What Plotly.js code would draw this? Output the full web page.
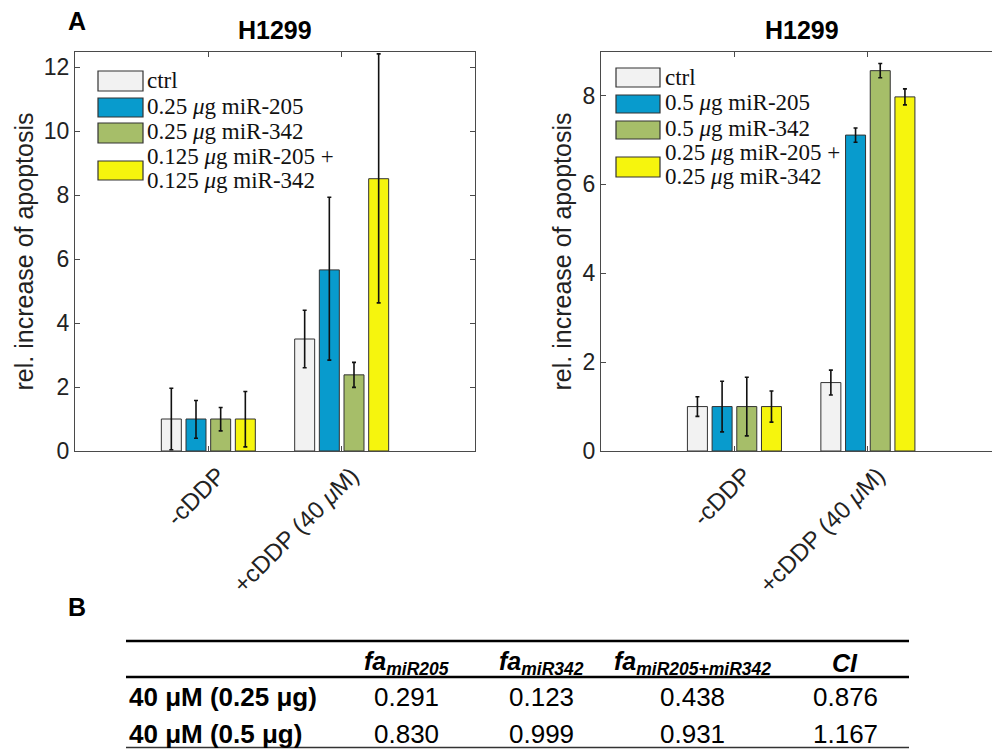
<!DOCTYPE html>
<html>
<head>
<meta charset="utf-8">
<script src="https://cdn.plot.ly/plotly-3.0.1.min.js"></script>
<style>html,body{margin:0;padding:0;background:#fff;overflow:hidden;}#chart{width:992px;height:749px;}</style>
</head>
<body>
<div id="chart"></div>
<script>
// ---------- data ----------
const categories = ['-cDDP', '+cDDP (40 <i>μ</i>M)'];
const catPos = [1, 2];

const seriesLeft = ['ctrl', '0.25 <i>μ</i>g miR-205', '0.25 <i>μ</i>g miR-342', '0.125 <i>μ</i>g miR-205 +<br>0.125 <i>μ</i>g miR-342'];
const seriesRight = ['ctrl', '0.5 <i>μ</i>g miR-205', '0.5 <i>μ</i>g miR-342', '0.25 <i>μ</i>g miR-205 +<br>0.25 <i>μ</i>g miR-342'];
const seriesColors = ['#f2f2f2', '#089bcd', '#a6be69', '#f6f50d'];

// left panel (0.25 µg)
const ctrlLeft = [1.0, 3.5];
const miR205Left = [1.0, 5.66];
const miR342Left = [1.0, 2.38];
const comboLeft = [1.0, 8.51];
const ctrlLeftErrPlus = [0.96, 0.9], ctrlLeftErrMinus = [0.96, 0.9];
const miR205LeftErrPlus = [0.58, 2.27], miR205LeftErrMinus = [0.6, 2.82];
const miR342LeftErrPlus = [0.36, 0.39], miR342LeftErrMinus = [0.37, 0.39];
const comboLeftErrPlus = [0.86, 3.9], comboLeftErrMinus = [0.87, 3.88];

// right panel (0.5 µg)
const ctrlRight = [1.0, 1.54];
const miR205Right = [1.0, 7.11];
const miR342Right = [1.0, 8.56];
const comboRight = [1.0, 7.97];
const ctrlRightErr = [0.22, 0.28];
const miR205RightErr = [0.57, 0.16];
const miR342RightErr = [0.66, 0.16];
const comboRightErr = [0.35, 0.18];

const leftTicks = [0, 2, 4, 6, 8, 10, 12];
const rightTicks = [0, 2, 4, 6, 8];

// table
const tableHeader = ['', '<b><i>fa<sub>miR205</sub></i></b>', '<b><i>fa<sub>miR342</sub></i></b>', '<b><i>fa<sub>miR205+miR342</sub></i></b>', '<b><i>CI</i></b>'];
const tableRowLabels = ['40 μM (0.25 μg)', '40 μM (0.5 μg)'];
const faMiR205 = ['0.291', '0.830'];
const faMiR342 = ['0.123', '0.999'];
const faCombo = ['0.438', '0.931'];
const ciValues = ['0.876', '1.167'];

// ---------- layout helpers ----------
const W = 992, H = 749;
const px = x => x / W;
const py = y => (H - y) / H;
const AX = '#4a4a4a';
const SANS = 'Liberation Sans, Arial, sans-serif';
const SERIF = 'Liberation Serif, Times New Roman, serif';

function barTrace(y, plus, minus, i, xa, ya) {
  return {
    type: 'bar', x: catPos, y: y, xaxis: xa, yaxis: ya, showlegend: false,
    marker: {color: seriesColors[i], line: {color: '#333', width: 1}},
    error_y: {type: 'data', symmetric: false, array: plus, arrayminus: minus, color: '#111', thickness: 1.6, width: 2}
  };
}

const traces = [
  barTrace(ctrlLeft, ctrlLeftErrPlus, ctrlLeftErrMinus, 0, 'x', 'y'),
  barTrace(miR205Left, miR205LeftErrPlus, miR205LeftErrMinus, 1, 'x', 'y'),
  barTrace(miR342Left, miR342LeftErrPlus, miR342LeftErrMinus, 2, 'x', 'y'),
  barTrace(comboLeft, comboLeftErrPlus, comboLeftErrMinus, 3, 'x', 'y'),
  barTrace(ctrlRight, ctrlRightErr, ctrlRightErr, 0, 'x2', 'y2'),
  barTrace(miR205Right, miR205RightErr, miR205RightErr, 1, 'x2', 'y2'),
  barTrace(miR342Right, miR342RightErr, miR342RightErr, 2, 'x2', 'y2'),
  barTrace(comboRight, comboRightErr, comboRightErr, 3, 'x2', 'y2')
];

const axisCommon = {
  showline: true, linecolor: AX, linewidth: 1, ticks: 'inside', ticklen: 5, tickcolor: AX,
  showgrid: false, zeroline: false, fixedrange: true,
  tickfont: {family: SANS, size: 23, color: '#222'}
};

const shapes = [];
const annotations = [];
function note(x, y, text, size, xanchor, family, color) {
  annotations.push({xref: 'paper', yref: 'paper', x: px(x), y: py(y), xanchor: xanchor || 'center', yanchor: 'middle',
    showarrow: false, text: text, font: {family: family || SANS, size: size, color: color || '#000'}});
}

function legend(names, swX0, swX1, swYs, textX, textYs) {
  names.forEach((name, i) => {
    shapes.push({type: 'rect', xref: 'paper', yref: 'paper', x0: px(swX0), x1: px(swX1),
      y0: py(swYs[i][1]), y1: py(swYs[i][0]), fillcolor: seriesColors[i], line: {color: '#333', width: 1.2}});
    name.split('<br>').forEach((line, j) => note(textX, textYs[i][j], line, 23, 'left', SERIF, '#111'));
  });
}
legend(seriesLeft, 98, 143, [[71, 91], [98, 117], [123, 143], [161, 180]], 145, [[81], [106], [131], [157, 180]]);
legend(seriesRight, 616, 660, [[68, 87], [95, 113], [121, 139], [157, 177]], 663, [[77], [103], [128], [152, 176]]);

// titles and panel letters
note(275, 30, '<b>H1299</b>', 25);
note(802, 30, '<b>H1299</b>', 25);
note(77, 21, '<b>A</b>', 25);
note(77, 607, '<b>B</b>', 25);

// table (booktabs style): rules + cell texts
shapes.push({type: 'line', xref: 'paper', yref: 'paper', x0: px(126), x1: px(909), y0: py(641), y1: py(641), line: {color: '#000', width: 2.5}});
shapes.push({type: 'line', xref: 'paper', yref: 'paper', x0: px(126), x1: px(909), y0: py(677), y1: py(677), line: {color: '#000', width: 2.5}});
shapes.push({type: 'line', xref: 'paper', yref: 'paper', x0: px(126), x1: px(909), y0: py(747.5), y1: py(747.5), line: {color: '#333', width: 1.5}});
const colCenters = [406, 541, 692, 845];
const headerY = 663, rowYs = [697, 734];
tableHeader.slice(1).forEach((h, c) => note(colCenters[c], headerY, h, 25));
const tableCols = [faMiR205, faMiR342, faCombo, ciValues];
tableRowLabels.forEach((lab, r) => {
  note(127, rowYs[r], '<b>' + lab + '</b>', 26, 'left');
  tableCols.forEach((col, c) => note(colCenters[c], rowYs[r], col[r], 26));
});

const xTickFont = {family: SANS, size: 24, color: '#222'};
const yTitle = {text: 'rel. increase of apoptosis', font: {family: SANS, size: 25, color: '#222'}, standoff: 3};

const layout = {
  width: W, height: H, margin: {l: 0, r: 0, t: 0, b: 0},
  paper_bgcolor: '#fff', plot_bgcolor: '#fff',
  barmode: 'group', bargap: 0.26, bargroupgap: 0.19,
  showlegend: false,
  xaxis: Object.assign({}, axisCommon, {domain: [px(75), px(475)], range: [0, 3], tickvals: catPos, ticktext: categories,
    tickangle: -45, mirror: 'ticks', anchor: 'y', ticklabelshift: 10, tickfont: xTickFont}),
  yaxis: Object.assign({}, axisCommon, {domain: [py(451), py(52)], range: [0, 12.47], tickvals: leftTicks,
    mirror: 'ticks', anchor: 'x', title: yTitle}),
  xaxis2: Object.assign({}, axisCommon, {domain: [px(601), 1], range: [0, 2.93], tickvals: catPos, ticktext: categories,
    tickangle: -45, mirror: 'ticks', anchor: 'y2', ticklabelshift: 10, tickfont: xTickFont}),
  yaxis2: Object.assign({}, axisCommon, {domain: [py(451), py(52)], range: [0, 8.98], tickvals: rightTicks,
    mirror: false, anchor: 'x2', title: yTitle}),
  shapes: shapes,
  annotations: annotations
};

Plotly.newPlot('chart', traces, layout, {displayModeBar: false, staticPlot: true});
</script>
</body>
</html>
